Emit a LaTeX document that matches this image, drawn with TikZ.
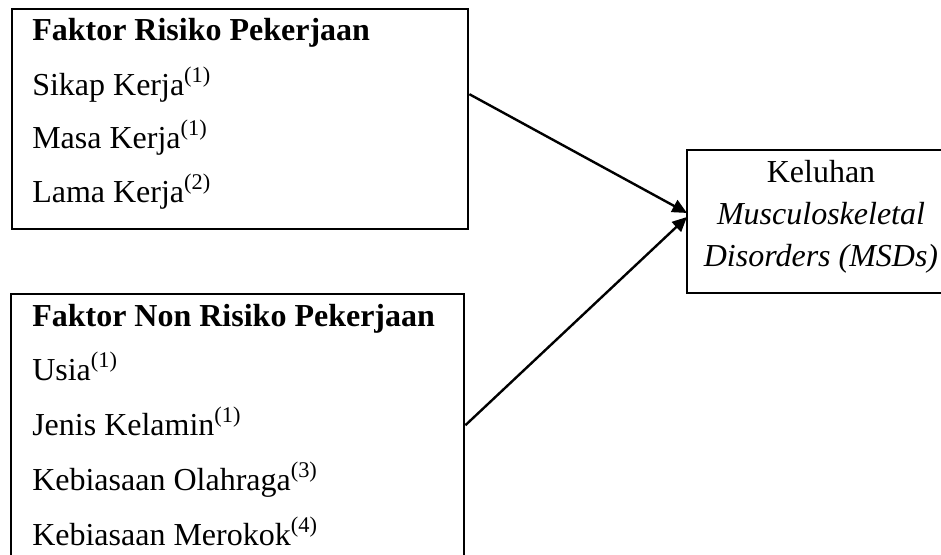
\documentclass[tikz,border=0pt]{standalone}
\usepackage{fontspec}
\setmainfont{Liberation Serif}
\usetikzlibrary{arrows.meta}
\tikzset{
  framebox/.style = {draw,line width=1.8pt,inner sep=0pt,anchor=north west},
  openbox/.style  = {inner sep=0pt,outer sep=0pt,anchor=north west},
  boxline/.style  = {line width=1.8pt},
  linetext/.style = {anchor=base west,inner sep=0pt,font=\fontsize{24}{28}\selectfont},
  midtext/.style  = {anchor=base,inner sep=0pt,font=\fontsize{24}{28}\selectfont},
  causearr/.style = {-{Triangle[length=11pt,width=10pt]},line width=1.8pt}
}

\begin{document}
\begin{tikzpicture}[x=0.75pt,y=-0.75pt]
  \useasboundingbox (0,0) rectangle (941,554);
  \clip (0,0) rectangle (941,554);
  % boxes
  \node[framebox,minimum width=342pt,minimum height=165pt]    (risk)    at (11,8)    {};
  \node[framebox,minimum width=339.75pt,minimum height=225pt] (nonrisk) at (10,293)  {};
  \node[openbox,minimum width=225pt,minimum height=107.25pt]  (outcome) at (687,150) {};
  \draw[boxline] (outcome.north east) -- (outcome.north west)
                 -- (outcome.south west) -- (outcome.south east);
  % occupational factors
  \node[linetext] (riskhead) at (32,40)  {\textbf{Faktor Risiko Pekerjaan}};
  \node[linetext] (sikap)    at (32,95)  {Sikap Kerja\textsuperscript{(1)}};
  \node[linetext] (masa)     at (32,148) {Masa Kerja\textsuperscript{(1)}};
  \node[linetext] (lama)     at (32,202) {Lama Kerja\textsuperscript{(2)}};
  % non-occupational factors
  \node[linetext] (nonhead)  at (32,326) {\textbf{Faktor Non Risiko Pekerjaan}};
  \node[linetext] (usia)     at (32,380) {Usia\textsuperscript{(1)}};
  \node[linetext] (jenis)    at (32,435) {Jenis Kelamin\textsuperscript{(1)}};
  \node[linetext] (olahraga) at (32,490) {Kebiasaan Olahraga\textsuperscript{(3)}};
  \node[linetext] (merokok)  at (32,545) {Kebiasaan Merokok\textsuperscript{(4)}};
  % outcome
  \node[midtext] (keluhan)   at (821,182) {Keluhan};
  \node[midtext] (musculo)   at (821,224) {\textit{Musculoskeletal}};
  \node[midtext] (disorders) at (821,266) {\textit{Disorders (MSDs)}};
  % arrows
  \draw[causearr] ([yshift=18.75pt]risk.east)    -- ([yshift=6.4pt]outcome.west);
  \draw[causearr] ([yshift=14.25pt]nonrisk.east) -- ([yshift=3.4pt]outcome.west);
\end{tikzpicture}
\end{document}
